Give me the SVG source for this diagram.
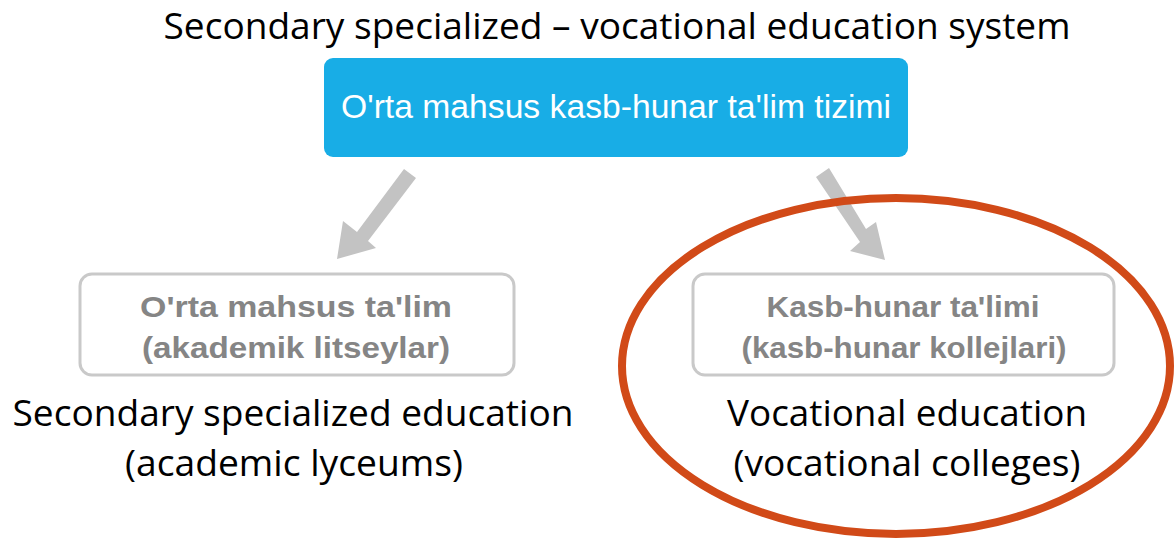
<svg xmlns="http://www.w3.org/2000/svg" width="1174" height="540" viewBox="0 0 1174 540">
<style>
.en{font-family:"Open Sans","Noto Sans","Liberation Sans",sans-serif;font-size:36px;fill:#000;text-anchor:middle}
.sub{font-family:"Liberation Sans",Arial,sans-serif;font-size:30px;font-weight:bold;fill:#858585;text-anchor:middle}
.box{fill:#fff;stroke:#c9c9c9;stroke-width:3}
.arrow{fill:#c3c3c3}
</style>
<rect width="1174" height="540" fill="#fff"/>
<g id="title">
<text class="en" x="617" y="39" textLength="907" lengthAdjust="spacingAndGlyphs">Secondary specialized – vocational education system</text>
</g>
<g id="top-node">
<rect x="324" y="58" width="584" height="99" rx="9" fill="#18ade6"/>
<text x="616" y="118" font-family="Liberation Sans,Arial,sans-serif" font-size="34" fill="#fff" text-anchor="middle" textLength="550" lengthAdjust="spacingAndGlyphs">O'rta mahsus kasb-hunar ta'lim tizimi</text>
</g>
<g id="connectors">
<polygon class="arrow" points="404,169 416,178 368,241 376,248 337,259 343,221 357,232"/>
<polygon class="arrow" points="816,177 829,168 866,229 876,222 885,260 850,251 860,242"/>
</g>
<g id="left-node">
<rect class="box" x="80" y="274" width="434" height="101" rx="12"/>
<text class="sub" x="296" y="317" textLength="312" lengthAdjust="spacingAndGlyphs">O'rta mahsus ta'lim</text>
<text class="sub" x="296" y="358" textLength="308" lengthAdjust="spacingAndGlyphs">(akademik litseylar)</text>
</g>
<g id="right-node">
<rect class="box" x="693" y="274" width="421" height="101" rx="12"/>
<text class="sub" x="903" y="317" textLength="273" lengthAdjust="spacingAndGlyphs">Kasb-hunar ta'limi</text>
<text class="sub" x="904" y="358" textLength="325" lengthAdjust="spacingAndGlyphs">(kasb-hunar kollejlari)</text>
</g>
<g id="left-label">
<text class="en" x="293" y="426" textLength="561" lengthAdjust="spacingAndGlyphs">Secondary specialized education</text>
<text class="en" x="294" y="476" textLength="338" lengthAdjust="spacingAndGlyphs">(academic lyceums)</text>
</g>
<g id="right-label">
<text class="en" x="907" y="426" textLength="360" lengthAdjust="spacingAndGlyphs">Vocational education</text>
<text class="en" x="907" y="476" textLength="347" lengthAdjust="spacingAndGlyphs">(vocational colleges)</text>
</g>
<g id="highlight">
<ellipse cx="896" cy="366" rx="274" ry="168" fill="none" stroke="#d14a18" stroke-width="8"/>
</g>
</svg>
